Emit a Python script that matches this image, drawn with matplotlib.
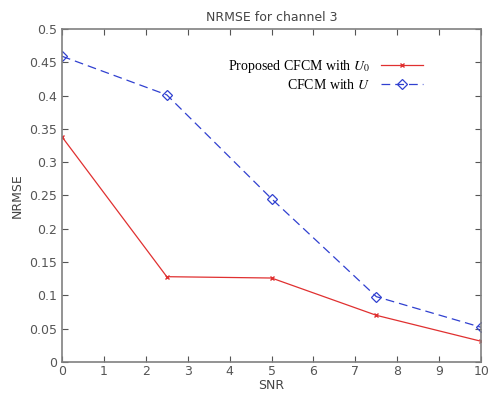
import numpy as np
import matplotlib.pyplot as plt

snr = [0, 2.5, 5, 7.5, 10]
nrmse_proposed = [0.338, 0.128, 0.126, 0.070, 0.031]
nrmse_cfcm = [0.459, 0.401, 0.245, 0.098, 0.052]

plt.rcParams['mathtext.fontset'] = 'stix'

fig = plt.figure(figsize=(4.88, 3.96), dpi=100)
ax = fig.add_axes([0.127, 0.086, 0.859, 0.841])

ax.plot(snr, nrmse_proposed, color='#e03030', lw=0.9, marker='x', ms=3,
        label=r'Proposed CFCM with $U_0$')
ax.plot(snr, nrmse_cfcm, color='#3040d0', lw=0.9, ls=(0, (7, 4)), marker='D', ms=5,
        mfc='none', mew=0.9, label=r'CFCM with $U$')

ax.set_xlim(0, 10)
ax.set_ylim(0, 0.5)
ax.set_xticks(np.arange(0, 11, 1))
ax.set_yticks(np.arange(0, 0.51, 0.05))
ax.set_xticklabels([str(i) for i in range(11)])
ax.set_yticklabels(['0', '0.05', '0.1', '0.15', '0.2', '0.25', '0.3', '0.35', '0.4', '0.45', '0.5'])
ax.tick_params(direction='in', top=True, right=True, labelsize=9, colors='#555555', length=4)
ax.tick_params(axis='x', pad=2)
for s in ax.spines.values():
    s.set_color('#808080')
    s.set_linewidth(1.2)

ax.set_title('NRMSE for channel 3', fontsize=9, color='#444444')
ax.set_xlabel('SNR', fontsize=9, color='#444444', labelpad=1)
ax.set_ylabel('NRMSE', fontsize=9, color='#444444')

leg = ax.legend(loc='upper right', bbox_to_anchor=(0.89, 0.95), frameon=False,
                markerfirst=False, prop={'family': 'Liberation Serif', 'size': 10},
                handlelength=3, labelspacing=0.2)
for t in leg.get_texts():
    t.set_ha('right')

fig.savefig('out.png', dpi=100)
